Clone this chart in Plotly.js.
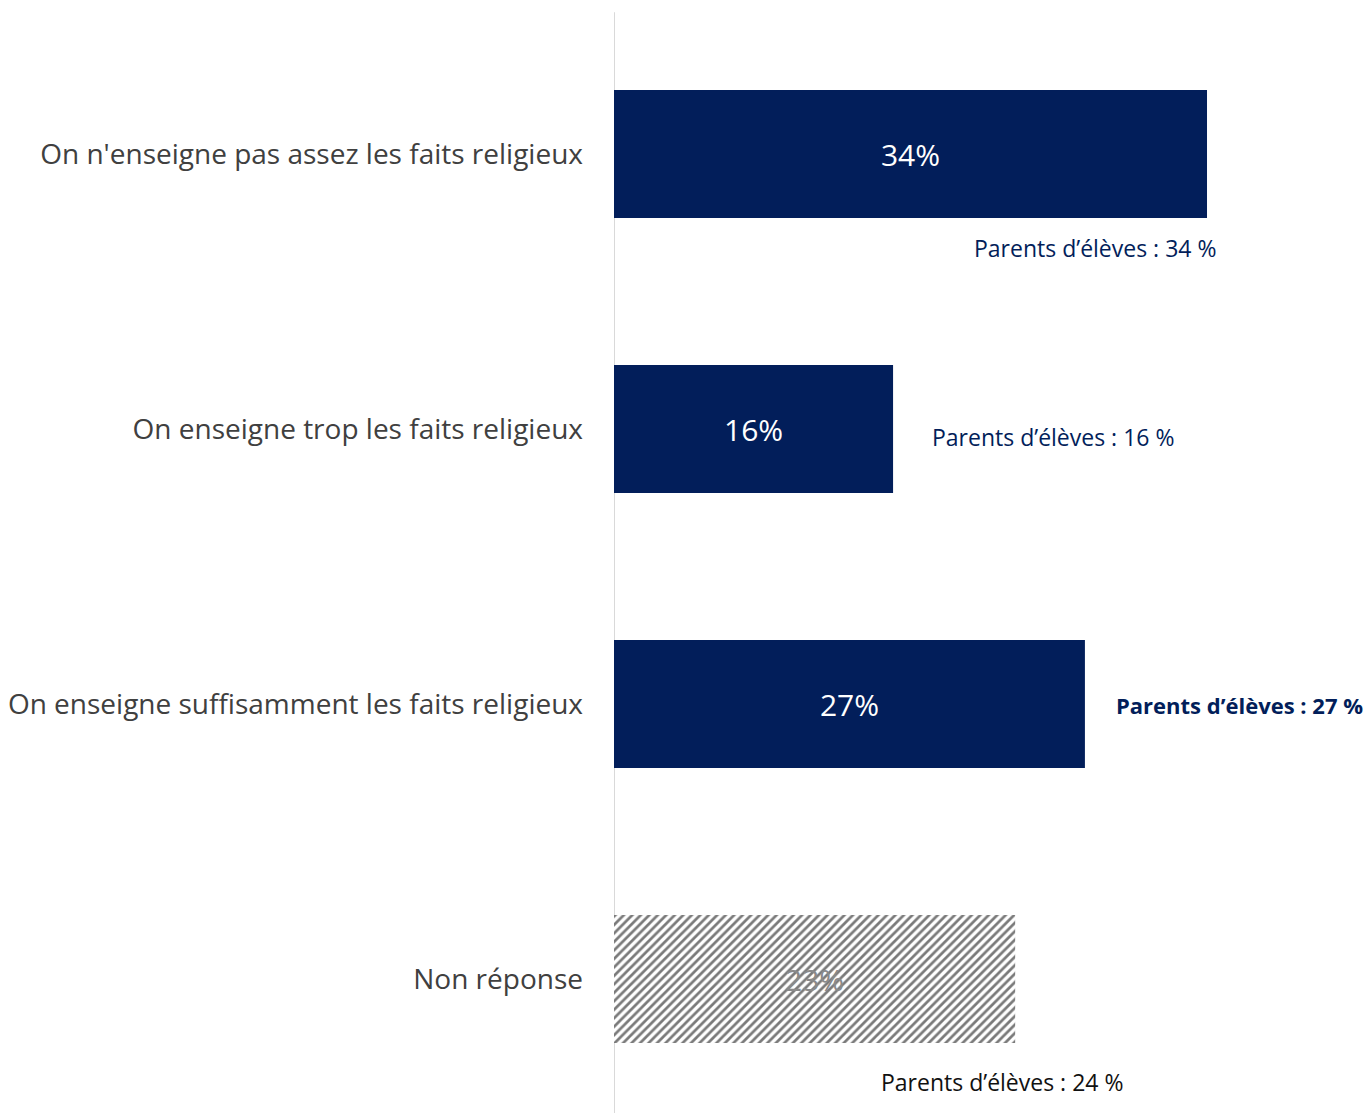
<!DOCTYPE html>
<html><head><meta charset="utf-8">
<script src="https://cdn.plot.ly/plotly-3.0.1.min.js"></script>
<style>html,body{margin:0;padding:0;background:#fff}#chart{width:1368px;height:1113px}</style>
</head><body><div id="chart"></div>
<script>
const categories = ["On n'enseigne pas assez les faits religieux", "On enseigne trop les faits religieux", "On enseigne suffisamment les faits religieux", "Non réponse"];
const values = [34, 16, 27, 23];
const parentsValues = [34, 16, 27, 24];
const parentsLabels = parentsValues.map(v => "Parents d\u2019élèves : " + v + " %");

const navy = "#021E5A";
const idx = categories.map((c,i)=>i);

const solidTrace = {
  type: "bar", orientation: "h",
  y: idx.slice(0,3), x: values.slice(0,3),
  width: 0.465,
  text: values.slice(0,3).map(v => v + "%"),
  textposition: "inside", insidetextanchor: "middle",
  textfont: {family: "Open Sans, sans-serif", size: 30, color: "#ffffff"},
  marker: {color: navy, line: {width: 0}},
  hoverinfo: "none"
};
const hatchTrace = {
  type: "bar", orientation: "h",
  y: idx.slice(3), x: values.slice(3),
  width: 0.465,
  text: values.slice(3).map(v => v + "%"),
  textposition: "inside", insidetextanchor: "middle",
  textfont: {family: "Open Sans, sans-serif", size: 30, color: "#8a8a8a"},
  marker: {color: "#ffffff", line: {width: 0},
    pattern: {shape: "/", fgcolor: "#7a7a7a", bgcolor: "#ffffff", size: 6, solidity: 0.45}},
  hoverinfo: "none"
};

const annFmt = [
  {xanchor: "right", xshift: 11, yshift: -94, bold: false, color: navy, size: 23},
  {xanchor: "left", xshift: 37, yshift: -8, bold: false, color: navy, size: 23},
  {xanchor: "left", xshift: 29, yshift: -1, bold: true, color: navy, size: 22},
  {xanchor: "right", xshift: 110, yshift: -103, bold: false, color: "#111111", size: 23}
];
const annotations = parentsLabels.map((t,i) => ({
  x: values[i], y: i, xref: "x", yref: "y",
  text: annFmt[i].bold ? "<b>" + t + "</b>" : t,
  showarrow: false, xanchor: annFmt[i].xanchor, yanchor: "middle",
  xshift: annFmt[i].xshift, yshift: annFmt[i].yshift,
  font: {family: "Open Sans, sans-serif", size: annFmt[i].size, color: annFmt[i].color}
}));

const layout = {
  width: 1368, height: 1113,
  margin: {l: 614, r: 0, t: 0, b: 0},
  paper_bgcolor: "#fff", plot_bgcolor: "#fff",
  showlegend: false, barmode: "overlay",
  xaxis: {range: [0, 43.23], visible: false, fixedrange: true},
  yaxis: {
    range: [3.487, -0.56], tickmode: "array", tickvals: idx, ticktext: categories,
    showgrid: false, zeroline: false, showline: false, ticks: "",
    ticklabelstandoff: 30,
    tickfont: {family: "Open Sans, sans-serif", size: 28, color: "#404040"}
  },
  shapes: [{type: "line", xref: "x", yref: "paper", x0: 0, x1: 0, y0: 0, y1: 0.989, line: {color: "#d9d9d9", width: 2}, layer: "below"}],
  annotations: annotations
};
Plotly.newPlot("chart", [solidTrace, hatchTrace], layout, {displayModeBar: false});
</script></body></html>
